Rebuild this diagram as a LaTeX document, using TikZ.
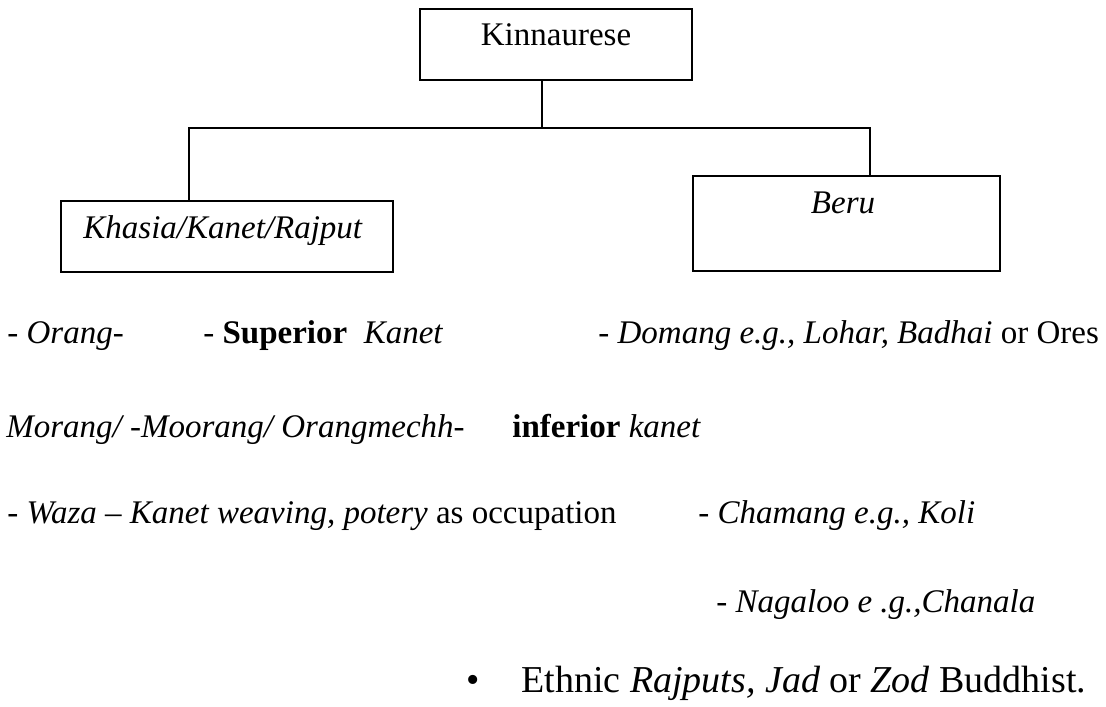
\documentclass[tikz,border=0pt]{standalone}
\usepackage{fontspec}
\setmainfont{Liberation Serif}
\begin{document}
\begin{tikzpicture}[x=0.5pt, y=-0.5pt,
    box/.style={draw, line width=1pt, inner sep=0pt},
    txt/.style={anchor=base west, inner sep=0pt, font=\fontsize{16.5}{20}\selectfont},
    bigtxt/.style={txt, font=\fontsize{19}{23}\selectfont}]
    \useasboundingbox (0,0) rectangle (1106,706);
    \node[box, minimum width=136pt, minimum height=35.5pt] (kin) at (556,44.5) {};
    \node[box, minimum width=166pt, minimum height=35.5pt] (khasia) at (227,236.5) {};
    \node[box, minimum width=153.5pt, minimum height=47.5pt] (beru) at (846.5,223.5) {};
    \node[txt, anchor=base] (kintext) at (556,46) {Kinnaurese};
    \node[txt] (khasiatext) at (83,238) {\textit{Khasia/Kanet/Rajput}};
    \node[txt, anchor=base] (berutext) at (843,213) {\textit{Beru}};
    \coordinate (split) at (542,128);
    \coordinate (left) at (189,128);
    \coordinate (right) at (870,128);
    \draw[line width=1pt] (kin.south -| split) -- (split);
    \draw[line width=1pt] (khasia.north -| left) -- (left) -- (right) -- (beru.north -| right);
    \node[txt] (orang) at (7,343) {- \textit{Orang-}};
    \node[txt] (superior) at (203,343) {- \textbf{Superior}\ \ \textit{Kanet}};
    \node[txt] (domang) at (598,343) {- \textit{Domang e.g., Lohar, Badhai} or Ores};
    \node[txt] (morang) at (6,437) {\textit{Morang/ -Moorang/ Orangmechh-}};
    \node[txt] (inferior) at (512,437) {\textbf{inferior} \textit{kanet}};
    \node[txt] (waza) at (7,523) {- \textit{Waza -- Kanet weaving, potery} as occupation};
    \node[txt] (chamang) at (698,523) {- \textit{Chamang e.g., Koli}};
    \node[txt] (nagaloo) at (716,612) {- \textit{Nagaloo e .g.,Chanala}};
    \node[bigtxt] (bullet) at (466,692) {\textbullet};
    \node[bigtxt] (ethnic) at (521,692) {Ethnic \textit{Rajputs, Jad} or \textit{Zod} Buddhist.};
\end{tikzpicture}
\end{document}
